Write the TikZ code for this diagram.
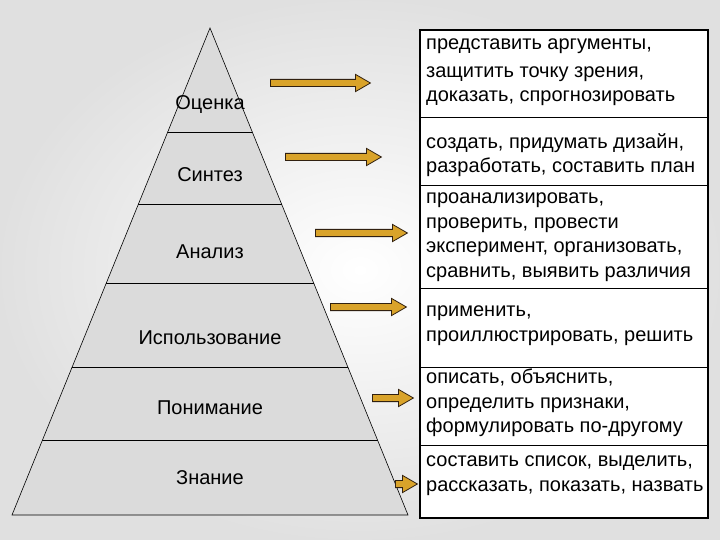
\documentclass[tikz,border=0pt]{standalone}
\usepackage{fontspec}
\setmainfont{Liberation Sans}
\usetikzlibrary{shapes.arrows}
\definecolor{gold}{HTML}{D9A32A}
\begin{document}
\begin{tikzpicture}[x=1pt,y=-1pt,
  lvl/.style={font=\fontsize{20}{22}\selectfont},
  txt/.style={anchor=north west,align=left,inner sep=0pt,font=\fontsize{20}{24.5}\selectfont},
  garrow/.style={single arrow,draw=black!75!brown,fill=gold,line width=0.8pt,inner xsep=0pt,inner ysep=3.2pt,single arrow head extend=5pt,single arrow tip angle=60,anchor=west,minimum width=17pt}]
\shade[inner color=white,outer color=black!12] (0,0) rectangle (720,540);
\useasboundingbox (0,0) rectangle (720,540);
% pyramid
\coordinate (apex) at (210,28);
\coordinate (bl) at (12,515);
\coordinate (br) at (408,515);
\draw[fill=black!14,line width=0.6pt] (apex) -- (bl) -- (br) -- cycle;
\begin{scope}
\clip (apex) -- (bl) -- (br) -- cycle;
\foreach \y in {132,204,283,367,440} \draw[line width=0.8pt] (0,\y) -- (420,\y);
\end{scope}
\node[lvl] (l1) at (210,105) {Оценка};
\node[lvl] (l2) at (210,175) {Синтез};
\node[lvl] (l3) at (210,252) {Анализ};
\node[lvl] (l4) at (210,338) {Использование};
\node[lvl] (l5) at (210,408) {Понимание};
\node[lvl] (l6) at (210,478) {Знание};
% box
\draw[fill=white,line width=1.6pt] (420,30) rectangle (708,518);
\foreach \y in {117,185,288,367,445} \draw[line width=0.8pt] (420,\y) -- (708,\y);
\node[txt] (t1) at (426,39) {представить аргументы,\\[3pt]защитить точку зрения,\\доказать, спрогнозировать};
\node[txt] (t2) at (426,133) {создать, придумать дизайн,\\разработать, составить план};
\node[txt] (t3) at (426,193) {проанализировать,\\проверить, провести\\эксперимент, организовать,\\сравнить, выявить различия};
\node[txt] (t4) at (426,306) {применить,\\проиллюстрировать, решить};
\node[txt] (t5) at (426,369) {описать, объяснить,\\определить признаки,\\формулировать по-другому};
\node[txt] (t6) at (426,456) {составить список, выделить,\\рассказать, показать, назвать};
% arrows
\node[garrow,minimum height=100pt] (a1) at (270,83) {};
\node[garrow,minimum height=96pt] (a2) at (285,157) {};
\node[garrow,minimum height=92pt] (a3) at (315,233) {};
\node[garrow,minimum height=76pt] (a4) at (330,307) {};
\node[garrow,minimum height=41pt] (a5) at (372,398) {};
\node[garrow,minimum height=22pt] (a6) at (395,484) {};
\end{tikzpicture}
\end{document}
